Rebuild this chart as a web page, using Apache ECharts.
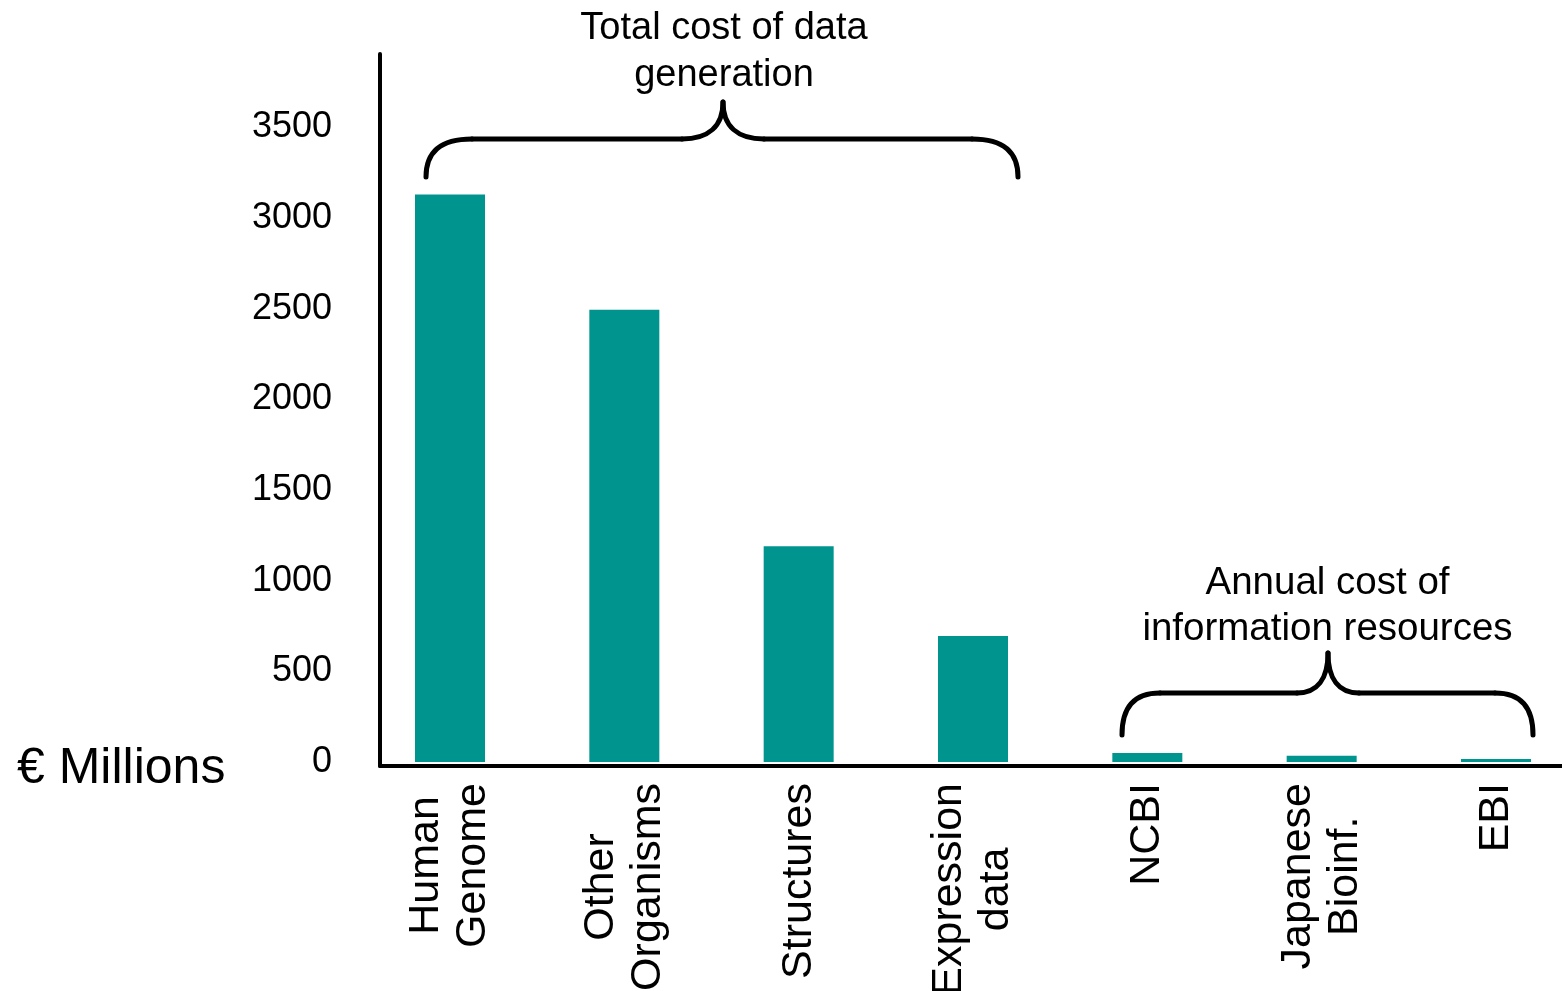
<!DOCTYPE html>
<html>
<head>
<meta charset="utf-8">
<script src="https://cdn.jsdelivr.net/npm/echarts@6/dist/echarts.min.js"></script>
<style>html,body{margin:0;padding:0;background:#fff;}#c{width:1562px;height:991px;}</style>
</head>
<body>
<div id="c"></div>
<script>
const categories = ['Human\nGenome', 'Other\nOrganisms', 'Structures', 'Expression\ndata', 'NCBI', 'Japanese\nBioinf.', 'EBI'];
const costValues = [3130, 2495, 1190, 695, 50, 35, 17];
const yTickValues = [0, 500, 1000, 1500, 2000, 2500, 3000, 3500];
const bracketTexts = ['Total cost of data\ngeneration', 'Annual cost of\ninformation resources'];
const unitLabel = '€ Millions';

const FONT = "'Liberation Sans', Arial, sans-serif";
const Y_MIN = -22, Y_MAX = 3905;

// curly brace built from curve/line pieces: ends at (x0,yb) and (x1,yb), horizontal at yh, tip at (xt,yt)
function brace(x0, x1, xt, yb, yh, yt, r, tw) {
  const st = {fill: null, stroke: '#000', lineWidth: 5, lineCap: 'round'};
  const drop = yb - yh, rise = yh - yt;
  return [
    {type: 'bezierCurve', shape: {x1: x0, y1: yb, cpx1: x0, cpy1: yh + drop * 0.35, cpx2: x0 + r * 0.3, cpy2: yh, x2: x0 + r, y2: yh}, style: st},
    {type: 'line', shape: {x1: x0 + r, y1: yh, x2: xt - tw, y2: yh}, style: st},
    {type: 'bezierCurve', shape: {x1: xt - tw, y1: yh, cpx1: xt - tw * 0.35, cpy1: yh, cpx2: xt, cpy2: yh - rise * 0.35, x2: xt, y2: yt}, style: st},
    {type: 'bezierCurve', shape: {x1: xt, y1: yt, cpx1: xt, cpy1: yh - rise * 0.35, cpx2: xt + tw * 0.35, cpy2: yh, x2: xt + tw, y2: yh}, style: st},
    {type: 'line', shape: {x1: xt + tw, y1: yh, x2: x1 - r, y2: yh}, style: st},
    {type: 'bezierCurve', shape: {x1: x1 - r, y1: yh, cpx1: x1 - r * 0.3, cpy1: yh, cpx2: x1, cpy2: yh + drop * 0.35, x2: x1, y2: yb}, style: st}
  ];
}

const chart = echarts.init(document.getElementById('c'), null, {renderer: 'canvas'});
chart.setOption({
  animation: false,
  backgroundColor: '#ffffff',
  grid: [
    {left: 450, width: 1046, top: 54, height: 712, containLabel: false, outerBoundsMode: 'none'},
    {left: 380, right: 0, top: 54, height: 712, containLabel: false, outerBoundsMode: 'none'}
  ],
  xAxis: [
    {
      type: 'category', gridIndex: 0, data: categories, boundaryGap: false,
      axisLine: {show: false}, axisTick: {show: false},
      axisLabel: {
        interval: 0, rotate: 90, margin: 17,
        formatter: v => v.split('\n').map(s => '{c|' + s + '}').join('\n'),
        rich: {c: {align: 'center', fontSize: 43, lineHeight: 47, fontFamily: FONT, color: '#000'}}
      }
    },
    {
      type: 'value', gridIndex: 1, min: 0, max: 1,
      axisLine: {show: true, onZero: false, lineStyle: {color: '#000', width: 4}},
      axisTick: {show: false}, axisLabel: {show: false}, splitLine: {show: false}
    }
  ],
  yAxis: [
    {type: 'value', gridIndex: 0, min: Y_MIN, max: Y_MAX, show: false, splitLine: {show: false}},
    {
      type: 'value', gridIndex: 1, min: Y_MIN, max: Y_MAX,
      axisLine: {show: true, lineStyle: {color: '#000', width: 4}},
      axisTick: {show: false}, splitLine: {show: false},
      axisLabel: {customValues: yTickValues, formatter: v => String(v), margin: 48, fontSize: 36, fontFamily: FONT, color: '#000'}
    }
  ],
  series: [{
    type: 'bar', xAxisIndex: 0, yAxisIndex: 0, data: costValues, clip: false,
    barWidth: 70, itemStyle: {color: '#00948f'}
  }],
  graphic: [
    {type: 'text', x: 17, y: 769, style: {text: unitLabel, font: "50px " + FONT, fill: '#000', verticalAlign: 'middle'}},
    {type: 'text', x: 724, y: 52, style: {text: bracketTexts[0], font: "38px " + FONT, lineHeight: 47, fill: '#000', align: 'center', verticalAlign: 'middle'}},
    {type: 'text', x: 1327.5, y: 606, style: {text: bracketTexts[1], font: "38.5px " + FONT, lineHeight: 46, fill: '#000', align: 'center', verticalAlign: 'middle'}}
  ].concat(brace(426, 1018, 723, 177, 139, 102, 46, 41))
   .concat(brace(1122, 1533, 1328, 735, 693, 653, 38, 31))
});
</script>
</body>
</html>
